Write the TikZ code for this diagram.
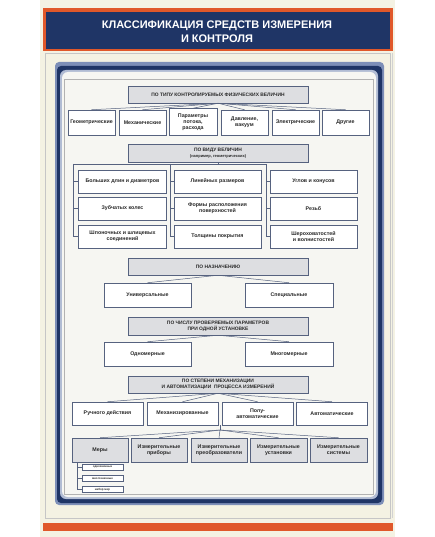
\documentclass[tikz,border=0pt]{standalone}
\usepackage{fontspec}
\setmainfont{Liberation Sans}
\definecolor{creamC}{HTML}{F4F2E3}
\definecolor{navyC}{HTML}{1F3566}
\definecolor{orangeC}{HTML}{E0582A}
\definecolor{bandC}{HTML}{7D8FB8}
\definecolor{panelC}{HTML}{F6F6F2}
\definecolor{lineC}{HTML}{56627F}
\definecolor{hdrF}{HTML}{DDDEE1}
\definecolor{txtC}{HTML}{2A2A2A}
\begin{document}
\begin{tikzpicture}[x=1pt,y=-1pt,
 hdr/.style={draw=lineC, fill=hdrF, line width=0.5pt, minimum width=180pt, align=center, font=\bfseries\fontsize{4.9}{5.6}\selectfont, text=txtC, inner sep=0pt},
 wbox/.style={draw=lineC, fill=white, line width=0.5pt, align=center, font=\bfseries\fontsize{5.3}{6.2}\selectfont, text=txtC, inner sep=0pt},
 gbox/.style={wbox, fill=hdrF},
 sbox/.style={draw=lineC, fill=white, line width=0.4pt, font=\bfseries\fontsize{2.9}{3.2}\selectfont, text=txtC, inner sep=0pt, minimum width=41pt, minimum height=6pt},
 conn/.style={draw=lineC, line width=0.5pt}]
\useasboundingbox (0,0) rectangle (435,537);
% background
\fill[white] (0,0) rectangle (435,537);
\fill[creamC] (40,0) rectangle (395,537);
% title bar
\fill[orangeC] (43,8) rectangle (393,51);
\fill[navyC] (46,12) rectangle (390,49);
\draw[gray!45, line width=0.4pt] (45,53) rectangle (390,518);
\draw[gray!35, line width=0.3pt] (392,53) -- (392,518);
\fill[orangeC] (43,523) rectangle (393,531);
% frame
\fill[bandC, rounded corners=4pt] (55,62) rectangle (384,505);
\fill[navyC, rounded corners=4pt] (57,66) rectangle (382,503);
\fill[bandC!60, rounded corners=6pt] (60,70) rectangle (378,499);
\fill[panelC, rounded corners=6pt] (62,72) rectangle (376,497);
\draw[gray!60, line width=0.4pt] (64,79) rectangle (373,494);
% title
\node[font=\bfseries\fontsize{11}{14}\selectfont, text=white, align=center] (title) at (217,31.5) {КЛАССИФИКАЦИЯ СРЕДСТВ ИЗМЕРЕНИЯ\\И КОНТРОЛЯ};
% row 1
\node[hdr, minimum height=17pt] (h1) at (218,94.5) {ПО ТИПУ КОНТРОЛИРУЕМЫХ ФИЗИЧЕСКИХ ВЕЛИЧИН};
\node[wbox, minimum width=47pt, minimum height=25pt] (a1) at (91.5,122.5) {Геометрические};
\node[wbox, minimum width=47pt, minimum height=25pt] (a2) at (142.5,122.5) {Механические};
\node[wbox, minimum width=48pt, minimum height=27pt] (a3) at (193,122) {Параметры\\потока,\\расхода};
\node[wbox, minimum width=47pt, minimum height=25pt] (a4) at (244.5,122.5) {Давление,\\вакуум};
\node[wbox, minimum width=47pt, minimum height=25pt] (a5) at (295.5,122.5) {Электрические};
\node[wbox, minimum width=47pt, minimum height=25pt] (a6) at (345.5,122.5) {Другие};
\foreach \n in {a1,a2,a3,a4,a5,a6} \draw[conn] (h1.south) -- (\n.north);
% row 2
\node[hdr, minimum height=18pt] (h2) at (218,153) {ПО ВИДУ ВЕЛИЧИН\\[0.3pt]{\fontsize{4}{4.5}\selectfont (например, геометрических)}};
\node[wbox, minimum width=88pt, minimum height=23pt] (L1) at (122.5,181.5) {Больших длин и диаметров};
\node[wbox, minimum width=88pt, minimum height=23pt] (L2) at (122.5,208.5) {Зубчатых колес};
\node[wbox, minimum width=88pt, minimum height=23pt] (L3) at (122.5,236.5) {Шпоночных и шлицевых\\соединений};
\node[wbox, minimum width=87pt, minimum height=23pt] (M1) at (217.5,181.5) {Линейных размеров};
\node[wbox, minimum width=87pt, minimum height=23pt] (M2) at (217.5,208.5) {Формы расположения\\поверхностей};
\node[wbox, minimum width=87pt, minimum height=23pt] (M3) at (217.5,236.5) {Толщины покрытия};
\node[wbox, minimum width=87pt, minimum height=23pt] (R1) at (313.5,181.5) {Углов и конусов};
\node[wbox, minimum width=87pt, minimum height=23pt] (R2) at (313.5,208.5) {Резьб};
\node[wbox, minimum width=87pt, minimum height=23pt] (R3) at (313.5,236.5) {Шероховатостей\\и волнистостей};
\coordinate (tL) at (73,164);
\coordinate (tM) at (170,164);
\coordinate (tR) at (266,164);
\draw[conn] (h2.south) -- (h2.south|-tL);
\draw[conn] (tL) -- (tR);
\draw[conn] (tL) |- (L3.west);
\draw[conn] (tL|-L1.west) -- (L1.west);
\draw[conn] (tL|-L2.west) -- (L2.west);
\draw[conn] (tM) |- (M3.west);
\draw[conn] (tM|-M1.west) -- (M1.west);
\draw[conn] (tM|-M2.west) -- (M2.west);
\draw[conn] (tR) |- (R3.west);
\draw[conn] (tR|-R1.west) -- (R1.west);
\draw[conn] (tR|-R2.west) -- (R2.west);
% row 3
\node[hdr, minimum height=17pt] (h3) at (218,266.5) {ПО НАЗНАЧЕНИЮ};
\node[wbox, minimum width=87pt, minimum height=24pt] (b1) at (147.5,295) {Универсальные};
\node[wbox, minimum width=88pt, minimum height=24pt] (b2) at (289,295) {Специальные};
\draw[conn] (h3.south) -- (b1.north);
\draw[conn] (h3.south) -- (b2.north);
% row 4
\node[hdr, minimum height=18pt] (h4) at (218,326) {ПО ЧИСЛУ ПРОВЕРЯЕМЫХ ПАРАМЕТРОВ\\ПРИ ОДНОЙ УСТАНОВКЕ};
\node[wbox, minimum width=87pt, minimum height=24pt] (c1) at (147.5,354) {Одномерные};
\node[wbox, minimum width=88pt, minimum height=24pt] (c2) at (289,354) {Многомерные};
\draw[conn] (h4.south) -- (c1.north);
\draw[conn] (h4.south) -- (c2.north);
% row 5
\node[hdr, minimum height=17pt] (h5) at (218,384.5) {ПО СТЕПЕНИ МЕХАНИЗАЦИИ\\И АВТОМАТИЗАЦИИ \ ПРОЦЕССА ИЗМЕРЕНИЙ};
\node[wbox, minimum width=71pt, minimum height=23pt] (d1) at (107.5,413.5) {Ручного действия};
\node[wbox, minimum width=71pt, minimum height=23pt] (d2) at (182.5,413.5) {Механизированные};
\node[wbox, minimum width=71pt, minimum height=23pt] (d3) at (257.5,413.5) {Полу-\\автоматические};
\node[wbox, minimum width=71pt, minimum height=23pt] (d4) at (332,413.5) {Автоматические};
\foreach \n in {d1,d2,d3,d4} \draw[conn] (h5.south) -- (\n.north);
% row 6
\coordinate (fan) at (220,430);
\draw[conn] (220,425) -- (fan);
\node[gbox, minimum width=56pt, minimum height=24pt] (e1) at (100,450) {Меры};
\node[gbox, minimum width=56pt, minimum height=24pt] (e2) at (159,450) {Измерительные\\приборы};
\node[gbox, minimum width=56pt, minimum height=24pt] (e3) at (219,450) {Измерительные\\преобразователи};
\node[gbox, minimum width=57pt, minimum height=24pt] (e4) at (278.5,450) {Измерительные\\установки};
\node[gbox, minimum width=57pt, minimum height=24pt] (e5) at (338.5,450) {Измерительные\\системы};
\foreach \n in {e1,e2,e3,e4,e5} \draw[conn] (fan) -- (\n.north);
% measures sub boxes
\node[sbox] (s1) at (102.5,467) {однозначные};
\node[sbox] (s2) at (102.5,478.5) {многозначные};
\node[sbox] (s3) at (102.5,489.5) {набор мер};
\coordinate (mv) at (77,462);
\draw[conn] (mv) |- (s3.west);
\draw[conn] (mv|-s1.west) -- (s1.west);
\draw[conn] (mv|-s2.west) -- (s2.west);
\end{tikzpicture}
\end{document}
